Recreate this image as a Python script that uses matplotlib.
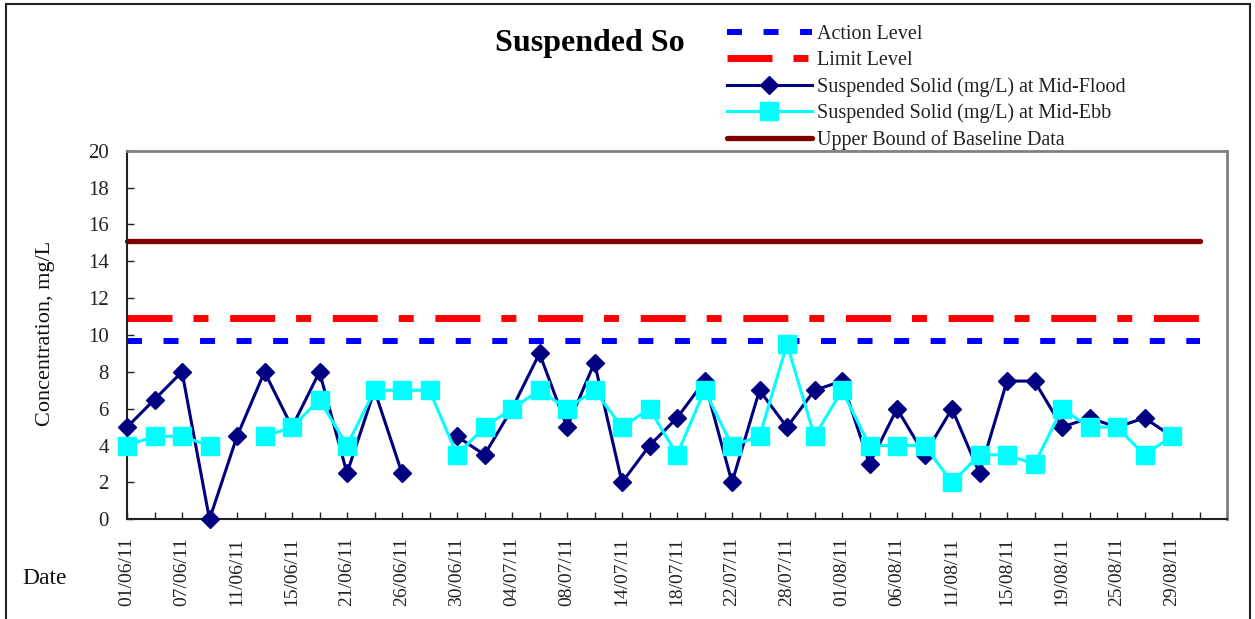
import numpy as np
import matplotlib
matplotlib.use("Agg")
import matplotlib.pyplot as plt
from matplotlib.patches import Rectangle

plt.rcParams['font.family'] = ['Liberation Serif', 'DejaVu Serif']
plt.rcParams['lines.scale_dashes'] = False

# sampling dates (every second survey day is labelled on the axis)
dates = ["01/06/11", "07/06/11", "11/06/11", "15/06/11", "21/06/11",
         "26/06/11", "30/06/11", "04/07/11", "08/07/11", "14/07/11",
         "18/07/11", "22/07/11", "28/07/11", "01/08/11", "06/08/11",
         "11/08/11", "15/08/11", "19/08/11", "25/08/11", "29/08/11"]
n_slots = 40  # category slots on the x axis

# suspended solids, mg/L (nan = no sample)
mid_flood = [5.0, 6.5, 8.0, 0.0, 4.5, 8.0, 5.0, 8.0, 2.5, 7.0,
             2.5, np.nan, 4.5, 3.5, 6.0, 9.0, 5.0, 8.5, 2.0, 4.0,
             5.5, 7.5, 2.0, 7.0, 5.0, 7.0, 7.5, 3.0, 6.0, 3.5,
             6.0, 2.5, 7.5, 7.5, 5.0, 5.5, 5.0, 5.5, 4.5]
mid_ebb = [4.0, 4.5, 4.5, 4.0, np.nan, 4.5, 5.0, 6.5, 4.0, 7.0,
           7.0, 7.0, 3.5, 5.0, 6.0, 7.0, 6.0, 7.0, 5.0, 6.0,
           3.5, 7.0, 4.0, 4.5, 9.5, 4.5, 7.0, 4.0, 4.0, 4.0,
           2.0, 3.5, 3.5, 3.0, 6.0, 5.0, 5.0, 3.5, 4.5]

action_level = 9.7
limit_level = 10.9
baseline_upper = 15.1

fig = plt.figure(figsize=(12.55, 6.19), dpi=100)
ax = fig.add_axes([127 / 1255, 1 - 519.3 / 619, 1100 / 1255, 368.6 / 619])

xs = np.arange(len(mid_flood))
xl = np.arange(n_slots)

ax.plot(xl, [action_level] * n_slots, color='#0000FF', lw=4.3,
        dashes=(10.8, 15.5), dash_capstyle='butt', clip_on=False,
        label='Action Level', zorder=2)
ax.plot(xl, [limit_level] * n_slots, color='#FF0000', lw=5,
        dashes=(32.4, 15.1, 10.8, 15.6), dash_capstyle='butt', clip_on=False,
        label='Limit Level', zorder=2)
ax.plot(xs, mid_flood, color='#000080', lw=2.2, marker='D', ms=9,
        mec='#000080', label='Suspended Solid (mg/L) at Mid-Flood', zorder=3,
        clip_on=False)
ax.plot(xs, mid_ebb, color='#00FFFF', lw=2.2, marker='s', ms=13,
        mec='#00FFFF', label='Suspended Solid (mg/L) at Mid-Ebb', zorder=4,
        clip_on=False)
ax.plot(xl, [baseline_upper] * n_slots, color='#800000', lw=3.8,
        solid_capstyle='round', label='Upper Bound of Baseline Data',
        zorder=2, clip_on=False)

ax.set_xlim(0, n_slots)
ax.set_ylim(0, 20)
ax.set_yticks(range(0, 21, 2))
ax.set_xticks(range(0, n_slots, 2), labels=dates, rotation=90)
ax.set_xticks(list(range(1, n_slots, 2)) + [n_slots], minor=True)
ax.tick_params(axis='both', which='both', direction='in', length=5,
               width=1, colors='#222222')
ax.tick_params(axis='y', labelsize=15, pad=13)
ax.tick_params(axis='x', labelsize=14, pad=13)
for lbl in ax.get_xticklabels() + ax.get_yticklabels():
    lbl.set_color('#222222')

for side in ('left', 'bottom'):
    ax.spines[side].set_color('#222222')
    ax.spines[side].set_linewidth(1.5)
for side in ('top', 'right'):
    ax.spines[side].set_color('#808080')
    ax.spines[side].set_linewidth(2)

fig.text(46 / 1255, 1 - 333 / 619, 'Concentration, mg/L', rotation=90,
         ha='center', va='center', fontsize=16, color='#111111')
fig.text(22 / 1255, 1 - 578 / 619, 'Date', ha='left', va='center',
         fontsize=17, color='#111111')
fig.text(590 / 1255, 1 - 44 / 619, 'Suspended So', ha='center', va='center',
         fontsize=23, fontweight='bold')

handles, labels = ax.get_legend_handles_labels()
fig.legend(handles, labels, loc='upper left',
           bbox_to_anchor=(727 / 1255, 1 - 25 / 619), frameon=False,
           fontsize=14.5, handlelength=4.2, handletextpad=0.25,
           labelspacing=0.34, borderpad=0, borderaxespad=0,
           labelcolor='#222222')

# outer frame of the chart
fig.add_artist(Rectangle((6 / 1255, -0.02), 1244 / 1255, 1.02 - 4 / 619,
                         transform=fig.transFigure, fill=False,
                         edgecolor='#222222', lw=1.5))

fig.savefig('out.png', dpi=100)
